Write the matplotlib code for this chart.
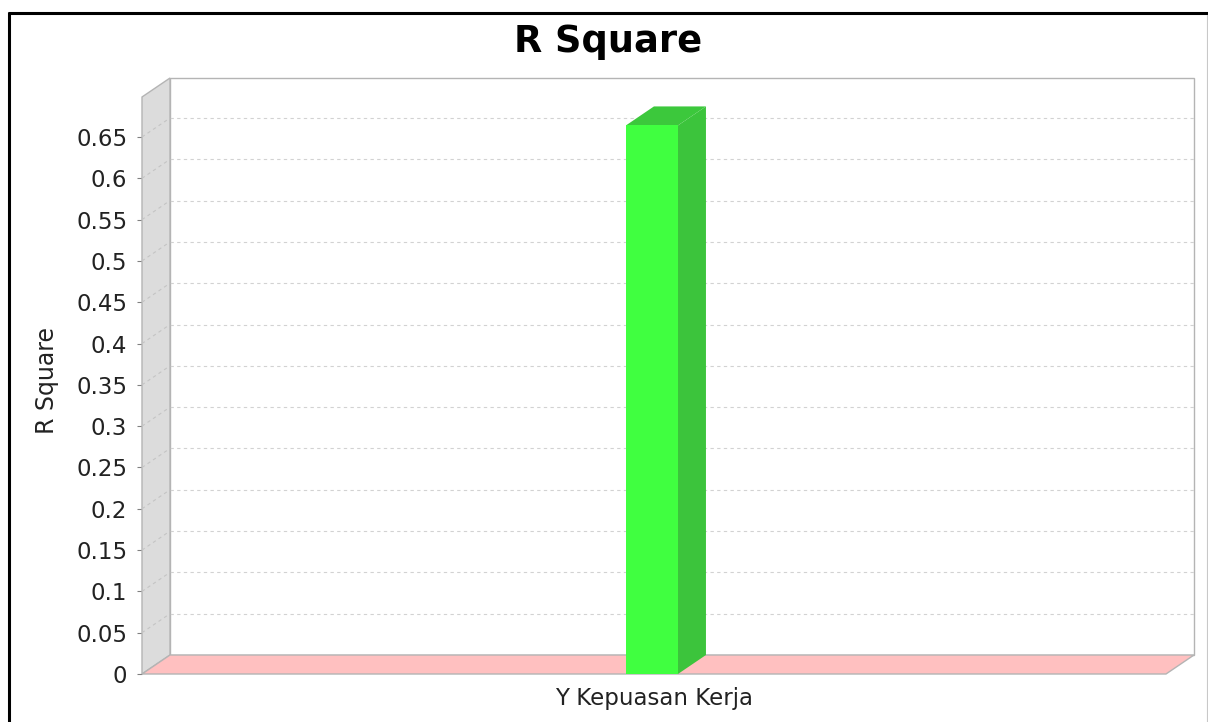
import matplotlib.pyplot as plt
from matplotlib.patches import Polygon
from matplotlib.lines import Line2D
import matplotlib.transforms as mtransforms

# data
categories = ['Y Kepuasan Kerja']
r_square = [0.664]
y_ticks = [0, 0.05, 0.1, 0.15, 0.2, 0.25, 0.3, 0.35, 0.4, 0.45, 0.5, 0.55, 0.6, 0.65]
y_tick_labels = ['0', '0.05', '0.1', '0.15', '0.2', '0.25', '0.3', '0.35', '0.4',
                 '0.45', '0.5', '0.55', '0.6', '0.65']

W, H = 1208, 722
DX, DY = 28, 19  # 3d depth offset in pixels

plt.rcParams['font.family'] = ['DejaVu Sans']

fig = plt.figure(figsize=(W / 100, H / 100), dpi=100)
fig.patch.set_facecolor('white')
ax = fig.add_axes([142 / W, (H - 674) / H, 1024 / W, 577 / H])
ax.set_xlim(-0.5, 0.5)
ax.set_ylim(0, 0.6984)
ax.patch.set_visible(False)
for s in ax.spines.values():
    s.set_visible(False)

ident = mtransforms.IdentityTransform()


def pt(x, y, back=False):
    px, py = ax.transData.transform((x, y))
    if back:
        px += DX
        py += DY
    return (px, py)


def axpt(xa, y, back=False):
    px = ax.transAxes.transform((xa, 0))[0]
    py = ax.transData.transform((0, y))[1]
    if back:
        px += DX
        py += DY
    return (px, py)


ymax = ax.get_ylim()[1]
edge = '#b4b4b4'

# back wall
ax.add_patch(Polygon([axpt(0, 0, True), axpt(1, 0, True), axpt(1, ymax, True), axpt(0, ymax, True)],
                     closed=True, facecolor='white', edgecolor=edge, lw=1.0,
                     transform=ident, clip_on=False, zorder=1))

# gridlines on back wall and left wall
for t in y_ticks[1:]:
    a = axpt(0, t, True)
    b = axpt(1, t, True)
    ax.add_line(Line2D([a[0], b[0]], [a[1], b[1]], color='#d2d2d2', lw=0.8,
                       linestyle=(0, (3, 3)), transform=ident, clip_on=False, zorder=2))

# left wall
ax.add_patch(Polygon([axpt(0, 0), axpt(0, 0, True), axpt(0, ymax, True), axpt(0, ymax)],
                     closed=True, facecolor='#dcdcdc', edgecolor=edge, lw=1.0,
                     transform=ident, clip_on=False, zorder=3))
for t in y_ticks[1:]:
    a = axpt(0, t)
    b = axpt(0, t, True)
    ax.add_line(Line2D([a[0], b[0]], [a[1], b[1]], color='#c4c4c4', lw=0.8,
                       linestyle=(0, (3, 3)), transform=ident, clip_on=False, zorder=4))

# floor
ax.add_patch(Polygon([axpt(0, 0), axpt(1, 0), axpt(1, 0, True), axpt(0, 0, True)],
                     closed=True, facecolor='#ffc0c0', edgecolor=edge, lw=1.0,
                     transform=ident, clip_on=False, zorder=4))

# bar
bar_w = 0.0508
bars = ax.bar([i - 0.002 for i in range(len(categories))], r_square, width=bar_w,
              color='#40ff40', edgecolor='none', zorder=6)
for rect in bars:
    x0 = rect.get_x()
    x1 = x0 + rect.get_width()
    v = rect.get_height()
    ax.add_patch(Polygon([pt(x1, 0), pt(x1, 0, True), pt(x1, v, True), pt(x1, v)],
                         closed=True, facecolor='#3cc43c', edgecolor='none',
                         transform=ident, clip_on=False, zorder=5))
    ax.add_patch(Polygon([pt(x0, v), pt(x1, v), pt(x1, v, True), pt(x0, v, True)],
                         closed=True, facecolor='#3cc83c', edgecolor='none',
                         transform=ident, clip_on=False, zorder=5))

# axes ticks
ax.set_yticks(y_ticks, y_tick_labels)
ax.tick_params(axis='y', length=3.6, color='#808080', labelsize=16.5, pad=7,
               labelcolor='#222222')
ax.set_xticks(range(len(categories)), categories)
ax.tick_params(axis='x', length=0, labelsize=16.5, pad=9, labelcolor='#222222')

fig.text(47 / W, 1 - 380 / H, 'R Square', rotation=90, ha='center', va='center',
         fontsize=17, color='#222222')
fig.text(608 / W, 1 - 42 / H, 'R Square', ha='center', va='center',
         fontsize=26.5, fontweight='bold', color='black')

# outer frame
fig.add_artist(Line2D([8 / W, 1208 / W], [1 - 13 / H, 1 - 13 / H], color='black', lw=2.2,
                      solid_capstyle='butt', transform=fig.transFigure))
fig.add_artist(Line2D([9 / W, 9 / W], [1 - 12 / H, 0], color='black', lw=2.2,
                      solid_capstyle='butt', transform=fig.transFigure))
fig.add_artist(Line2D([1206.5 / W, 1206.5 / W], [1 - 15 / H, 0], color='#c8c8c8', lw=0.8,
                      transform=fig.transFigure))

fig.savefig('out.png', dpi=100)
